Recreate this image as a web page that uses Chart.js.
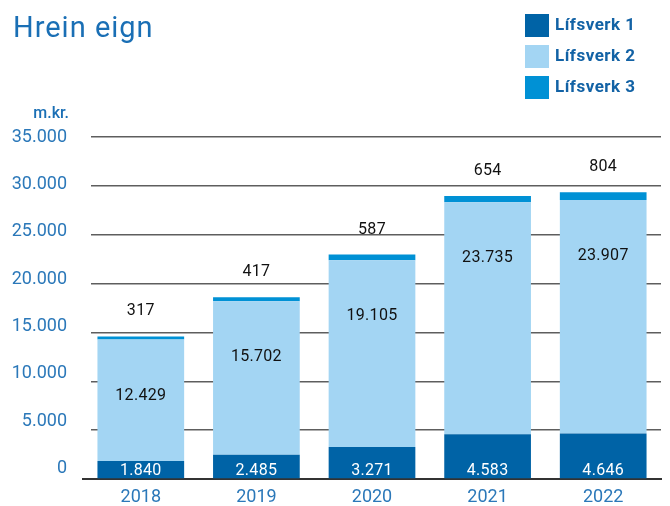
<!DOCTYPE html>
<html><head><meta charset="utf-8">
<script src="https://cdn.jsdelivr.net/npm/chart.js@4"></script>
<style>html,body{margin:0;padding:0;background:#fff}#wrap{width:670px;height:506px}</style>
</head><body><div id="wrap"><canvas id="c" width="670" height="506"></canvas></div>
<script>
const categories = ['2018', '2019', '2020', '2021', '2022'];
const lifsverk1 = [1840, 2485, 3271, 4583, 4646];
const lifsverk2 = [12429, 15702, 19105, 23735, 23907];
const lifsverk3 = [317, 417, 587, 654, 804];
const seriesNames = ['Lífsverk 1', 'Lífsverk 2', 'Lífsverk 3'];
const yTickValues = [0, 5000, 10000, 15000, 20000, 25000, 30000, 35000];
const titleText = 'Hrein eign';
const unitText = 'm.kr.';

const COLORS = ['#0063a6', '#a3d5f3', '#0091d5'];
const BLUE_TEXT = '#2b78b9';
const FONT = 'Roboto';

function fmt(v) { return String(v).replace(/\B(?=(\d{3})+(?!\d))/g, '.'); }

const gridMask = {
  id: 'gridMask',
  beforeDatasetsDraw(chart) {
    const a = chart.chartArea, ctx = chart.ctx;
    ctx.save();
    ctx.fillStyle = '#ffffff';
    ctx.fillRect(a.left, a.top - 3, 8, a.bottom - a.top - 2);
    ctx.restore();
  }
};

const valueLabels = {
  id: 'valueLabels',
  afterDatasetsDraw(chart) {
    const ctx = chart.ctx;
    ctx.save();
    ctx.textAlign = 'center';
    ctx.textBaseline = 'middle';
    ctx.font = '400 16px ' + FONT;
    try { ctx.letterSpacing = '0.3px'; } catch (e) {}
    chart.data.datasets.forEach((ds, di) => {
      const meta = chart.getDatasetMeta(di);
      meta.data.forEach((bar, i) => {
        const v = ds.data[i];
        let y, color;
        if (di === 0) { y = bar.base - 7; color = '#ffffff'; }
        else if (di === 1) { y = bar.y + 56; color = '#111111'; }
        else { y = bar.y - 25; color = '#111111'; }
        ctx.fillStyle = color;
        ctx.fillText(fmt(v), bar.x, y);
      });
    });
    ctx.restore();
  }
};

const decor = {
  id: 'decor',
  afterDraw(chart) {
    const ctx = chart.ctx;
    ctx.save();
    ctx.fillStyle = '#1a6fb5';
    ctx.font = '400 29px ' + FONT;
    ctx.textAlign = 'left';
    ctx.textBaseline = 'alphabetic';
    try { ctx.letterSpacing = '1px'; } catch (e) {}
    ctx.fillText(titleText, 13, 37);
    try { ctx.letterSpacing = '0px'; } catch (e) {}
    ctx.font = '500 16px ' + FONT;
    ctx.fillStyle = '#1a6fb5';
    ctx.textAlign = 'right';
    ctx.fillText(unitText, 69, 118);
    chart.data.datasets.forEach((ds, i) => {
      const y = 14 + i * 31;
      ctx.fillStyle = ds.backgroundColor;
      ctx.fillRect(525, y, 24, 23);
      ctx.fillStyle = '#1262a5';
      ctx.font = 'bold 17px ' + FONT;
      ctx.textAlign = 'left';
      ctx.textBaseline = 'middle';
      try { ctx.letterSpacing = '0.5px'; } catch (e) {}
      ctx.fillText(ds.label, 555, y + 12);
    });
    ctx.restore();
  }
};

new Chart(document.getElementById('c'), {
  type: 'bar',
  data: {
    labels: categories,
    datasets: [
      { label: seriesNames[0], data: lifsverk1, backgroundColor: COLORS[0] },
      { label: seriesNames[1], data: lifsverk2, backgroundColor: COLORS[1] },
      { label: seriesNames[2], data: lifsverk3, backgroundColor: COLORS[2] }
    ]
  },
  options: {
    responsive: false,
    animation: false,
    devicePixelRatio: 1,
    layout: { padding: { top: 137, right: 9, left: 0, bottom: 0 } },
    datasets: { bar: { categoryPercentage: 1, barPercentage: 0.75 } },
    plugins: { legend: { display: false }, tooltip: { enabled: false }, title: { display: false } },
    scales: {
      x: {
        stacked: true,
        offset: true,
        grid: { display: false, drawTicks: false },
        border: { display: true, color: '#333333', width: 2 },
        ticks: { color: BLUE_TEXT, font: { family: FONT, size: 18 }, padding: 8 },
        afterFit(s) { s.height = 27; }
      },
      y: {
        stacked: true,
        position: 'left',
        min: 0,
        max: 35000,
        grid: { color: '#5e5e5e', lineWidth: 1.5, drawTicks: false },
        border: { display: false },
        ticks: { display: false, stepSize: 5000 },
        afterFit(s) { s.width = 0; }
      },
      yl: {
        position: 'left',
        bounds: 'data',
        min: -1076,
        max: 35000,
        grid: { display: false, drawTicks: false },
        border: { display: false },
        ticks: {
          autoSkip: false,
          color: BLUE_TEXT,
          font: { family: FONT, size: 18 },
          padding: 16,
          callback: (v) => fmt(v)
        },
        afterBuildTicks(s) { s.ticks = yTickValues.map(v => ({ value: v })); },
        afterFit(s) { s.width = 83; }
      }
    }
  },
  plugins: [gridMask, valueLabels, decor]
});
</script>
</body></html>
